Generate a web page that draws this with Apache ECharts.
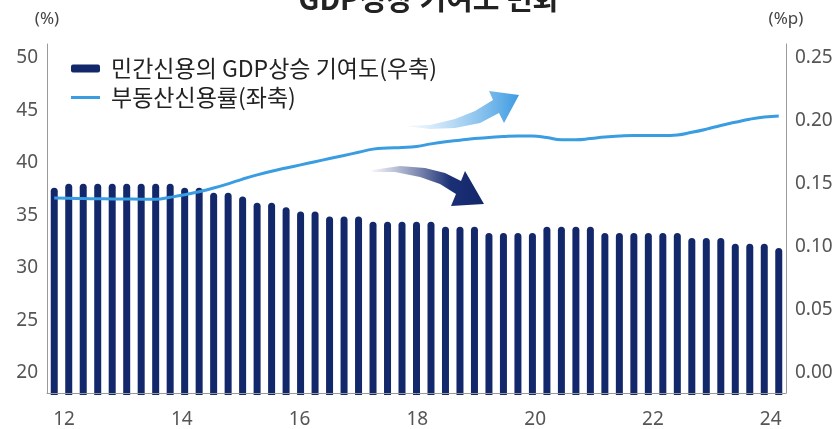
<!DOCTYPE html>
<html>
<head>
<meta charset="utf-8">
<script src="https://cdn.jsdelivr.net/npm/echarts@6/dist/echarts.min.js"></script>
<style>
html, body { margin: 0; padding: 0; background: #fff; }
#main { width: 838px; height: 429px; }
</style>
</head>
<body>
<div id="main"></div>
<script>
// 2012 1Q ~ 2024 3Q, quarterly
var quarters = [];
for (var y = 12; y <= 24; y++) {
    for (var q = 1; q <= 4; q++) {
        if (y === 24 && q > 3) break;
        quarters.push(y + '.' + q + 'Q');
    }
}

// 민간신용의 GDP상승 기여도 (%p, right axis)
var contribution = [
    0.147, 0.150, 0.150, 0.150, 0.150, 0.150, 0.150, 0.150, 0.150, 0.147,
    0.147, 0.143, 0.143, 0.140, 0.135, 0.135, 0.1315, 0.128, 0.128, 0.124,
    0.124, 0.124, 0.120, 0.120, 0.120, 0.120, 0.120, 0.116, 0.116, 0.116,
    0.111, 0.111, 0.111, 0.111, 0.116, 0.116, 0.116, 0.116, 0.111, 0.111,
    0.111, 0.111, 0.111, 0.111, 0.107, 0.107, 0.107, 0.1025, 0.1025, 0.1025,
    0.099
];

// 부동산신용률 (%, left axis)
var realEstate = [
    36.64, 36.62, 36.60, 36.58, 36.56, 36.55, 36.54, 36.54, 36.72, 36.95,
    37.25, 37.60, 38.00, 38.45, 38.85, 39.20, 39.50, 39.80, 40.10, 40.40,
    40.70, 41.00, 41.30, 41.40, 41.45, 41.55, 41.80, 42.00, 42.15, 42.30,
    42.40, 42.50, 42.55, 42.55, 42.40, 42.20, 42.20, 42.30, 42.45, 42.55,
    42.60, 42.60, 42.60, 42.65, 42.90, 43.20, 43.55, 43.85, 44.15, 44.35,
    44.45
];

var yearTicks = [12, 14, 16, 18, 20, 22, 24];
var leftTicks = [20, 25, 30, 35, 40, 45, 50];
var rightTicks = [0, 0.05, 0.10, 0.15, 0.20, 0.25];

var FONT = "'Noto Sans CJK KR', 'Noto Sans', sans-serif";
var NUMFONT = "'Noto Sans', sans-serif";
var NAVY = '#13286b';
var SKY = '#3a9de2';
var AXIS = '#9a9a9a';

var dom = document.getElementById('main');
var myChart = echarts.init(dom);

// bars run from the value down to the bottom of the plot (axis min), like the original
function renderBar(params, api) {
    var pt = api.coord([api.value(0), api.value(1)]);
    var cs = params.coordSys;
    var bottom = cs.y + cs.height + 2;
    var w = 7;
    return {
        type: 'rect',
        shape: { x: pt[0] - w / 2, y: pt[1], width: w, height: bottom - pt[1], r: [w / 2, w / 2, 0, 0] },
        style: { fill: NAVY }
    };
}

var option = {
    backgroundColor: '#ffffff',
    animation: false,
    title: {
        text: 'GDP성장 기여도 변화',
        left: 424,
        textAlign: 'center',
        top: -21,
        textStyle: { fontFamily: FONT, fontSize: 29, fontWeight: 'bold', color: '#222' }
    },
    legend: [
        {
            data: [{ name: '민간신용의 GDP상승 기여도(우축)', icon: 'roundRect' }],
            left: 66, top: 52,
            itemWidth: 29, itemHeight: 8,
            textStyle: { fontFamily: FONT, fontSize: 23, color: '#222', padding: [0, 0, 0, 6] }
        },
        {
            data: [{ name: '부동산신용률(좌축)', icon: 'rect' }],
            left: 66, top: 81,
            itemWidth: 29, itemHeight: 3,
            textStyle: { fontFamily: FONT, fontSize: 23, color: '#222', padding: [0, 0, 0, 6] }
        }
    ],
    grid: { left: 47, right: 52, top: 44, bottom: 36 },
    xAxis: [
        {
            type: 'category',
            data: quarters,
            show: false
        },
        {
            type: 'value',
            position: 'bottom',
            min: 11.711,
            max: 24.26,
            z: 5,
            axisLine: { show: true, lineStyle: { color: AXIS, width: 1 } },
            axisTick: { show: false },
            splitLine: { show: false },
            axisLabel: {
                customValues: yearTicks,
                margin: 17,
                fontFamily: NUMFONT, fontSize: 19, color: '#555'
            }
        }
    ],
    yAxis: [
        {
            type: 'value',
            position: 'left',
            min: 18.1,
            max: 51.3,
            name: '(%)',
            nameLocation: 'end',
            nameGap: 16,
            nameTextStyle: { fontFamily: NUMFONT, fontSize: 17, color: '#444', align: 'center' },
            axisLine: { show: true, lineStyle: { color: AXIS, width: 1 } },
            axisTick: { show: false },
            splitLine: { show: false },
            axisLabel: {
                customValues: leftTicks,
                margin: 9,
                fontFamily: NUMFONT, fontSize: 19, color: '#555'
            }
        },
        {
            type: 'value',
            position: 'right',
            min: -0.016,
            max: 0.261,
            name: '(%p)',
            nameLocation: 'end',
            nameGap: 16,
            nameTextStyle: { fontFamily: NUMFONT, fontSize: 17, color: '#444', align: 'center' },
            axisLine: { show: true, lineStyle: { color: AXIS, width: 1 } },
            axisTick: { show: false },
            splitLine: { show: false },
            axisLabel: {
                customValues: rightTicks,
                margin: 9,
                fontFamily: NUMFONT, fontSize: 19, color: '#555',
                formatter: function (v) { return v.toFixed(2); }
            }
        }
    ],
    graphic: [
        {
            // light blue rising arrow
            type: 'polygon',
            shape: {
                points: [[405, 126], [430, 125], [455, 119], [475, 111], [493, 100],
                         [489, 91], [519, 95], [504, 123], [499, 113],
                         [480, 123], [455, 128], [430, 129], [405, 126]]
            },
            style: {
                fill: new echarts.graphic.LinearGradient(0, 0, 1, 0, [
                    { offset: 0, color: 'rgba(120,185,235,0.05)' },
                    { offset: 1, color: '#3d9be2' }
                ])
            },
            z: 10
        },
        {
            // navy falling arrow
            type: 'polygon',
            shape: {
                points: [[372, 170], [400, 166], [425, 168], [445, 173], [461, 181],
                         [465, 171], [484, 204], [451, 206], [456, 194],
                         [440, 184], [420, 177], [395, 172], [372, 172]]
            },
            style: {
                fill: new echarts.graphic.LinearGradient(0, 0, 1, 0, [
                    { offset: 0, color: 'rgba(60,80,140,0.05)' },
                    { offset: 0.7, color: '#1b2f75' },
                    { offset: 1, color: NAVY }
                ])
            },
            z: 10
        }
    ],
    series: [
        {
            name: '민간신용의 GDP상승 기여도(우축)',
            type: 'custom',
            xAxisIndex: 0,
            yAxisIndex: 1,
            renderItem: renderBar,
            data: contribution.map(function (v, i) { return [i, v]; }),
            encode: { x: 0, y: 1 },
            itemStyle: { color: NAVY }
        },
        {
            name: '부동산신용률(좌축)',
            type: 'line',
            xAxisIndex: 0,
            yAxisIndex: 0,
            data: realEstate,
            smooth: true,
            showSymbol: false,
            lineStyle: { color: SKY, width: 3 },
            itemStyle: { color: SKY },
            z: 5
        }
    ]
};

if (option && typeof option === "object") {
    myChart.setOption(option, true);
}
</script>
</body>
</html>
